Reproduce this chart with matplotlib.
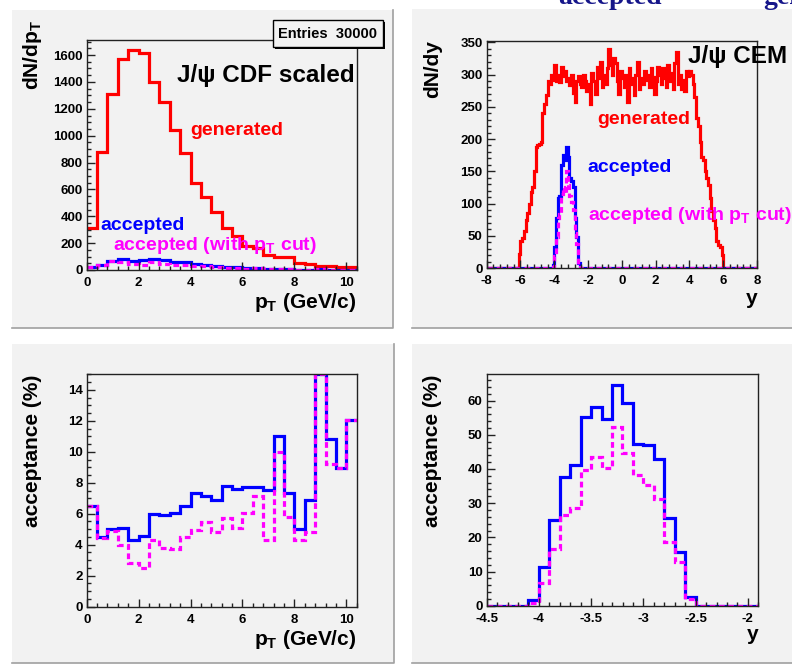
import numpy as np
import matplotlib
matplotlib.use('Agg')
from matplotlib import pyplot as plt
from matplotlib.patches import Rectangle
from matplotlib.ticker import MultipleLocator, FormatStrFormatter

plt.rcParams['font.family'] = ['Liberation Sans', 'DejaVu Sans']
plt.rcParams['font.weight'] = 'bold'
plt.rcParams['mathtext.fontset'] = 'custom'
plt.rcParams['mathtext.rm'] = 'Liberation Sans:bold'
plt.rcParams['mathtext.it'] = 'Liberation Sans:bold'
plt.rcParams['mathtext.bf'] = 'Liberation Sans:bold'
plt.rcParams['axes.unicode_minus'] = False

# ---- pT spectra (bins of 0.4 GeV/c from 0 to 10.4) ----
pt_edges = np.linspace(0, 10.4, 27)
pt_gen = [310, 875, 1312, 1568, 1638, 1613, 1400, 1250, 1040, 872, 645, 546,
          430, 316, 250, 176, 162, 114, 100, 94, 55, 45, 30, 28, 25, 22]
pt_acc = [20, 39, 66, 80, 70, 73, 84, 74, 63, 57, 47, 39,
          29, 25, 19, 13, 12, 8, 11, 7, 3, 3, 4.5, 3, 2.2, 2.6]
pt_acc_cut = [20, 39, 64, 63, 47, 40, 60, 47, 39, 39, 32, 30,
              20, 18, 13, 10.5, 11.5, 5, 10, 5.4, 2.4, 2.2, 4.5, 2.6, 2.2, 2.6]

# acceptance vs pT (%)
pt_eff = [6.5, 4.5, 5.03, 5.08, 4.3, 4.54, 6.0, 5.9, 6.05, 6.52, 7.34, 7.13,
          6.87, 7.78, 7.6, 7.71, 7.71, 7.56, 11.04, 7.34, 5.03, 6.87, 15.0, 10.8, 8.94, 12.03]
pt_eff_cut = [6.5, 4.43, 4.86, 4.0, 2.85, 2.48, 4.32, 3.78, 3.72, 4.47, 4.92, 5.44,
              4.8, 5.72, 5.08, 6.05, 7.13, 4.32, 10.0, 5.77, 4.32, 4.8, 15.0, 9.24, 8.94, 12.03]

# ---- rapidity spectra (bins of 0.1 from -8 to 8) ----
y_edges = np.linspace(-8, 8, 161)
y_gen = ([0] * 19 +
         [22, 42, 46, 58, 75, 85, 100, 118, 125, 150, 188, 190, 192, 195, 240, 255,
          268, 290, 285, 300, 292] +
         [315, 290, 300, 288, 312, 298, 305, 290, 295, 283,
          300, 272, 258, 290, 298, 285, 280, 300, 290, 275,
          285, 255, 302, 290, 270, 312, 295, 320, 280, 300,
          285, 310, 340, 315, 300, 325, 318, 290, 270, 305,
          295, 280, 300, 258, 310, 285, 295, 268, 300, 320,
          278, 295, 285, 305, 292, 300, 280, 310, 296, 270,
          290, 312, 300, 285, 310, 295, 280, 315, 290, 302,
          278, 318, 335, 285, 300, 278, 292, 275, 305, 298,
          306, 300] +
         [285, 265, 232, 220, 195, 172, 168, 150, 140, 128, 108, 88, 75, 62, 42, 35, 32, 20] +
         [0] * 20)
y_acc = ([0] * 39 +
         [5, 32, 78, 108, 112, 160, 175, 168, 187, 172, 140, 135, 125, 78, 48, 7] +
         [0] * 105)
y_acc_cut = ([0] * 39 +
             [1.5, 19, 48, 77, 83, 115, 126, 117, 151, 129, 111, 102, 90, 54, 37, 6] +
             [0] * 105)

# acceptance vs y (%), bins of 0.1 from -4.5 to -1.9
eff_edges = np.linspace(-4.5, -1.9, 27)
y_eff = [0, 0, 0, 0, 1.7, 11.4, 25.1, 37.6, 41.2, 55.3, 58.2, 54.7, 64.6,
         59.2, 47.3, 47.1, 42.9, 25.8, 15.6, 2.4, 0, 0, 0, 0, 0, 0]
y_eff_cut = [0, 0, 0, 0, 0.7, 6.5, 16.6, 26.5, 28.5, 39.7, 43.4, 40.2, 52.2,
             44.6, 38.2, 35.3, 31.1, 18.7, 12.9, 2.1, 0, 0, 0, 0, 0, 0]

W, H = 792, 667
fig = plt.figure(figsize=(W / 100, H / 100), dpi=100)
fig.patch.set_facecolor('white')
pad_col = '#f2f2f2'
red, blue, mag = '#ff0000', '#0000ff', '#ff00ff'
lw = 2.3
dash = (0, (1.8, 1.1))


def fx(x):
    return x / W


def fy(y):
    return 1 - y / H


# grey ROOT pads
for x0, y0, x1, y1 in [(12, 10, 393, 328), (412, 9, 800, 328),
                       (12, 344, 394, 663), (412, 344, 800, 663)]:
    fig.patches.append(Rectangle((fx(x0), fy(y1)), fx(x1 - x0), (y1 - y0) / H,
                                 transform=fig.transFigure, facecolor=pad_col,
                                 edgecolor='none', zorder=-10))
    fig.lines.append(plt.Line2D([fx(x0), fx(x1), fx(x1)], [fy(y1), fy(y1), fy(y0)],
                                transform=fig.transFigure, color='#a0a0a0', lw=1.2, zorder=-9))


def make_axes(x0, y0, x1, y1):
    ax = fig.add_axes([fx(x0), fy(y1), fx(x1 - x0), (y1 - y0) / H])
    ax.set_facecolor(pad_col)
    for s in ax.spines.values():
        s.set_linewidth(1.0)
        s.set_color('#222222')
    ax.tick_params(which='both', direction='in', top=False, right=False,
                   labelsize=9.5, color='#222222')
    ax.tick_params(which='major', length=6, width=1)
    ax.tick_params(which='minor', length=3, width=1)
    ax.tick_params(axis='x', pad=5)
    ax.tick_params(axis='y', pad=3)
    return ax


def ylab(ax, text, ytop=1.0):
    ax.text(-0.199, ytop, text, rotation=90, ha='center', va='top',
            fontsize=15, transform=ax.transAxes)


def xlab(ax, text, ybase):
    ax.text(1.0, ybase, text, ha='right', va='baseline', fontsize=15,
            transform=ax.transAxes)


def hist(ax, vals, edges, color, ls='-'):
    ax.stairs(vals, edges, baseline=None, color=color, lw=lw, linestyle=ls)


# ---- top left: dN/dpT ----
ax1 = make_axes(86.7, 40, 356.7, 270)
hist(ax1, pt_gen, pt_edges, red)
hist(ax1, pt_acc, pt_edges, blue)
hist(ax1, pt_acc_cut, pt_edges, mag, dash)
ax1.set_xlim(0, 10.4)
ax1.set_ylim(0, 1712)
ax1.xaxis.set_major_locator(MultipleLocator(2))
ax1.xaxis.set_minor_locator(MultipleLocator(0.4))
ax1.yaxis.set_major_locator(MultipleLocator(200))
ax1.yaxis.set_minor_locator(MultipleLocator(50))
ylab(ax1, r'dN/dp$_\mathrm{T}$', 1.087)
xlab(ax1, r'p$_\mathrm{T}$ (GeV/c)', -0.165)
ax1.text(0.334, 0.817, 'J/ψ CDF scaled', fontsize=17.5, va='baseline',
         transform=ax1.transAxes)
ax1.text(0.383, 0.587, 'generated', color=red, fontsize=14, va='baseline',
         transform=ax1.transAxes)
ax1.text(0.049, 0.174, 'accepted', color=blue, fontsize=14, va='baseline',
         transform=ax1.transAxes)
ax1.text(0.098, 0.087, r'accepted (with p$_\mathrm{T}$ cut)', color=mag, fontsize=14,
         va='baseline', transform=ax1.transAxes)

# stats box
fig.patches.append(Rectangle((fx(275), fy(49)), fx(110), 27 / H, transform=fig.transFigure,
                             facecolor='black', edgecolor='none', zorder=4))
fig.patches.append(Rectangle((fx(273), fy(47)), fx(110), 27 / H, transform=fig.transFigure,
                             facecolor=pad_col, edgecolor='black', lw=1, zorder=5))
fig.text(fx(328), fy(33.5), 'Entries  30000', ha='center', va='center', fontsize=10.5,
         zorder=6)

# ---- top right: dN/dy ----
ax2 = make_axes(486.7, 41, 757, 268)
hist(ax2, y_gen, y_edges, red)
hist(ax2, y_acc, y_edges, blue)
hist(ax2, y_acc_cut, y_edges, mag, dash)
ax2.set_xlim(-8, 8)
ax2.set_ylim(0, 352)
ax2.xaxis.set_major_locator(MultipleLocator(2))
ax2.xaxis.set_minor_locator(MultipleLocator(0.4))
ax2.yaxis.set_major_locator(MultipleLocator(50))
ax2.yaxis.set_minor_locator(MultipleLocator(10))
ylab(ax2, 'dN/dy', 1.004)
xlab(ax2, 'y', -0.159)
ax2.text(0.743, 0.903, 'J/ψ CEM', fontsize=17.5, va='baseline', transform=ax2.transAxes)
ax2.text(0.408, 0.634, 'generated', color=red, fontsize=14, va='baseline',
         transform=ax2.transAxes)
ax2.text(0.371, 0.423, 'accepted', color=blue, fontsize=14, va='baseline',
         transform=ax2.transAxes)
ax2.text(0.375, 0.211, r'accepted (with p$_\mathrm{T}$ cut)', color=mag, fontsize=14,
         va='baseline', transform=ax2.transAxes)

# ---- bottom left: acceptance vs pT ----
ax3 = make_axes(86.7, 374.3, 356.7, 606.7)
hist(ax3, pt_eff, pt_edges, blue)
hist(ax3, pt_eff_cut, pt_edges, mag, dash)
ax3.set_xlim(0, 10.4)
ax3.set_ylim(0, 15)
ax3.xaxis.set_major_locator(MultipleLocator(2))
ax3.xaxis.set_minor_locator(MultipleLocator(0.4))
ax3.yaxis.set_major_locator(MultipleLocator(2))
ax3.yaxis.set_minor_locator(MultipleLocator(0.5))
ylab(ax3, 'acceptance (%)')
xlab(ax3, r'p$_\mathrm{T}$ (GeV/c)', -0.165)

# ---- bottom right: acceptance vs y ----
ax4 = make_axes(486.7, 374.3, 758.3, 605.7)
hist(ax4, y_eff, eff_edges, blue)
hist(ax4, y_eff_cut, eff_edges, mag, dash)
ax4.set_xlim(-4.5, -1.9)
ax4.set_ylim(0, 67.7)
ax4.xaxis.set_major_locator(MultipleLocator(0.5))
ax4.xaxis.set_minor_locator(MultipleLocator(0.1))
ax4.xaxis.set_major_formatter(FormatStrFormatter('%g'))
ax4.yaxis.set_major_locator(MultipleLocator(10))
ax4.yaxis.set_minor_locator(MultipleLocator(2))
ylab(ax4, 'acceptance (%)')
xlab(ax4, 'y', -0.148)

for ax in (ax1, ax2, ax3, ax4):
    for lab in ax.get_xticklabels() + ax.get_yticklabels():
        lab.set_fontweight('bold')

# slide text cut off at the top edge (as in the original screenshot)
fig.text(fx(558), fy(3.5), 'accepted', family=['Liberation Serif', 'DejaVu Serif'],
         fontsize=20, weight='bold', color='#16168a', va='baseline')
fig.text(fx(763), fy(3.5), 'generated', family=['Liberation Serif', 'DejaVu Serif'],
         fontsize=20, weight='bold', color='#16168a', va='baseline')

fig.savefig('out.png', dpi=100)
